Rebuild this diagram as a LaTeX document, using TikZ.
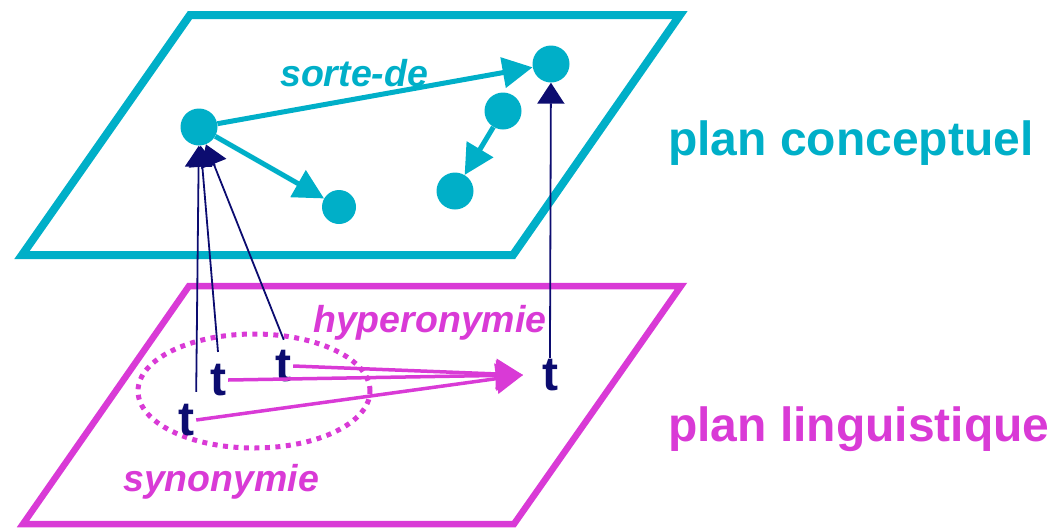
\documentclass[tikz,border=0pt]{standalone}
\usepackage{fontspec}
\setmainfont{Liberation Sans}
\usetikzlibrary{arrows.meta}
\definecolor{cyanc}{RGB}{0,175,200}
\definecolor{magc}{RGB}{217,58,214}
\definecolor{navyc}{RGB}{12,12,112}
\tikzset{
  concept/.style={circle,fill=cyanc,draw=none,minimum size=37pt,inner sep=0pt},
  cyanarrow/.style={draw=cyanc,line width=5pt,-{Triangle[length=30pt,width=30pt]}},
  navyarrow/.style={draw=navyc,line width=1.8pt,-{Triangle[length=21pt,width=27pt]}},
  magarrow/.style={draw=magc,line width=3.5pt,-{Triangle[length=27pt,width=30pt]}},
  term/.style={text=navyc,font=\fontsize{48}{50}\selectfont\bfseries,inner xsep=2pt,inner ysep=12pt},
  lab/.style={font=\fontsize{37.5}{40}\selectfont\bfseries\itshape,inner sep=0pt,anchor=base west},
  planlab/.style={font=\fontsize{48}{50}\selectfont\bfseries,inner sep=0pt,anchor=base west},
  plane/.style={line join=miter}
}
\begin{document}
\begin{tikzpicture}[x=1pt,y=-1pt]
\useasboundingbox (0,0) rectangle (1050,528);
% planes
\draw[plane,draw=cyanc,line width=8pt] (190,15) -- (680,15) -- (513,255) -- (22,255) -- cycle;
\draw[plane,draw=magc,line width=6.5pt] (189,286) -- (681,286) -- (514,524) -- (23,524) -- cycle;
% concept nodes
\node[concept] (A) at (199,127) {};
\node[concept] (B) at (551,64) {};
\node[concept] (C) at (503,111) {};
\node[concept] (D) at (455,191) {};
\node[concept,minimum size=34pt] (E) at (339,207) {};
\draw[cyanarrow] (A) -- (B);
\draw[cyanarrow] (A) -- (E);
\draw[cyanarrow] (C) -- (D);
\node[lab,text=cyanc] (sorte) at (280,86) {sorte-de};
% synonymy ellipse
\draw[draw=magc,line width=5pt,dash pattern=on 5pt off 5.5pt] (254,391) ellipse [x radius=116pt,y radius=57pt];
% terms
\node[term] (t1) at (186,420) {t};
\node[term] (t2) at (218,380) {t};
\node[term] (t3) at (283,366) {t};
\node[term] (t4) at (550,375) {t};
\coordinate (hyp) at (523,375);
\draw[magarrow] (t3.east) -- (hyp);
\draw[magarrow] (t2.east) -- (hyp);
\draw[magarrow] (t1.east) -- (hyp);
% links to concepts
\draw[navyarrow] (t1.north east) -- (A);
\draw[navyarrow] (t2.north) -- (A);
\draw[navyarrow,shorten <=-2pt] (t3.north) -- (A);
\draw[navyarrow,shorten <=-11pt] (t4.north) -- (B);
% labels
\node[lab,text=magc] (hyper) at (313,332) {hyperonymie};
\node[lab,text=magc] (syno) at (123,491) {synonymie};
\node[planlab,text=cyanc] (pc) at (668,155) {plan conceptuel};
\node[planlab,text=magc] (pl) at (668,441) {plan linguistique};
\end{tikzpicture}
\end{document}
